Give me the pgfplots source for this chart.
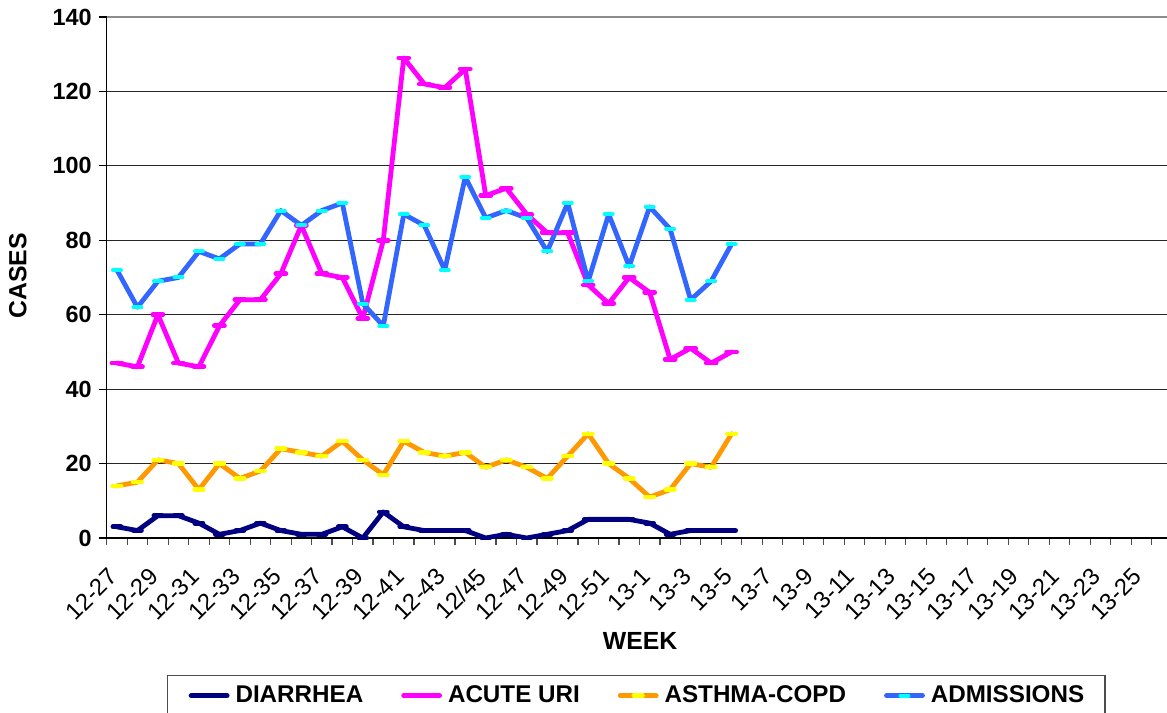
\documentclass[border=0pt]{standalone}
\usepackage{pgfplots}
\pgfplotsset{compat=1.18}
\usepackage{pgfplotstable}
\usepackage{fontspec}
\setmainfont{Liberation Sans}
\definecolor{cNavy}{HTML}{000080}
\definecolor{cMag}{HTML}{FF00FF}
\definecolor{cOra}{HTML}{FF9900}
\definecolor{cBlue}{HTML}{3366FF}
\definecolor{cCyan}{HTML}{00FFFF}
\definecolor{cYel}{HTML}{FFFF00}
\pgfplotstableread{
x dia uri ast adm
0 3 47 14 72
1 2 46 15 62
2 6 60 21 69
3 6 47 20 70
4 4 46 13 77
5 1 57 20 75
6 2 64 16 79
7 4 64 18 79
8 2 71 24 88
9 1 84 23 84
10 1 71 22 88
11 3 70 26 90
12 0 59 21 63
13 7 80 17 57
14 3 129 26 87
15 2 122 23 84
16 2 121 22 72
17 2 126 23 97
18 0 92 19 86
19 1 94 21 88
20 0 87 19 86
21 1 82 16 77
22 2 82 22 90
23 5 68 28 69
24 5 63 20 87
25 5 70 16 73
26 4 66 11 89
27 1 48 13 83
28 2 51 20 64
29 2 47 19 69
30 2 50 28 79
}\data
\begin{document}
\begin{tikzpicture}
\begin{axis}[
  scale only axis,
  width=530.15bp, height=260.5bp,
  xmin=-0.5, xmax=51.25,
  ymin=0, ymax=140,
  axis x line*=bottom, axis y line*=left,
  axis line style={-, black, line width=0.7bp},
  tick align=outside,
  ytick={0,20,...,140},
  yticklabels={0,20,40,60,80,100,120,140},
  yticklabel style={font=\fontsize{11.7bp}{14bp}\selectfont\bfseries},
  major tick length=4bp,
  xtick={0,2,...,50},
  xticklabels={12-27,12-29,12-31,12-33,12-35,12-37,12-39,12-41,12-43,12/45,12-47,12-49,12-51,13-1,13-3,13-5,13-7,13-9,13-11,13-13,13-15,13-17,13-19,13-21,13-23,13-25},
  x tick style={draw=none},
  minor xtick={-0.5,0.5,...,51.5},
  minor x tick style={draw=black!70, line width=0.6bp},
  minor tick length=3.5bp,
  y tick style={black, line width=0.6bp},
  xticklabel style={xshift=-5bp, yshift=-10bp, rotate=45, anchor=north east, inner sep=0pt, font=\fontsize{11.9bp}{14bp}\selectfont},
  ymajorgrids,
  major grid style={black!85, line width=0.6bp},
  xlabel={WEEK}, ylabel={CASES},
  xlabel style={at={(axis description cs:0.503,-0.198)}, anchor=center, font=\fontsize{12.4bp}{14bp}\selectfont\bfseries},
  ylabel style={at={(axis description cs:-0.0837,0.503)}, anchor=center, font=\fontsize{12.4bp}{14bp}\selectfont\bfseries},
  legend columns=4,
  legend style={at={(axis description cs:0.0569,-0.263)}, anchor=north west, draw=black!70, line width=0.7bp,
    font=\fontsize{12.1bp}{14bp}\selectfont\bfseries, inner xsep=10.5bp, inner ysep=5bp,
    nodes={inner sep=0pt},
    /tikz/every odd column/.append style={column sep=3bp},
    /tikz/every even column/.append style={column sep=19bp}},
  legend image code/.code={\draw[mark repeat=2,mark phase=2,#1] plot coordinates {(0bp,0bp)(9bp,0bp)(18bp,0bp)};},
  every axis plot/.append style={line width=2.4bp, line join=round, line cap=round},
]
\draw[black!45, line width=0.8bp] (axis cs:-0.5,140) -- (axis cs:51.25,140);
\addplot[cNavy, mark=-, mark size=2bp, mark options={line width=2.4bp, cNavy}] table[x=x,y=dia]{\data};
\addlegendentry{DIARRHEA}
\addplot[cMag, mark=-, mark size=2.5bp, mark options={line width=2.4bp, cMag}] table[x=x,y=uri]{\data};
\addlegendentry{ACUTE URI}
\addplot[cOra, mark=-, mark size=2.2bp, mark options={line width=2.2bp, cYel}] table[x=x,y=ast]{\data};
\addlegendentry{ASTHMA-COPD}
\addplot[cBlue, mark=-, mark size=2bp, mark options={line width=2bp, cCyan}] table[x=x,y=adm]{\data};
\addlegendentry{ADMISSIONS}
\end{axis}
\pgfresetboundingbox
\useasboundingbox (-53.35bp,-87.5bp) rectangle (530.15bp,269bp);
\end{tikzpicture}
\end{document}
